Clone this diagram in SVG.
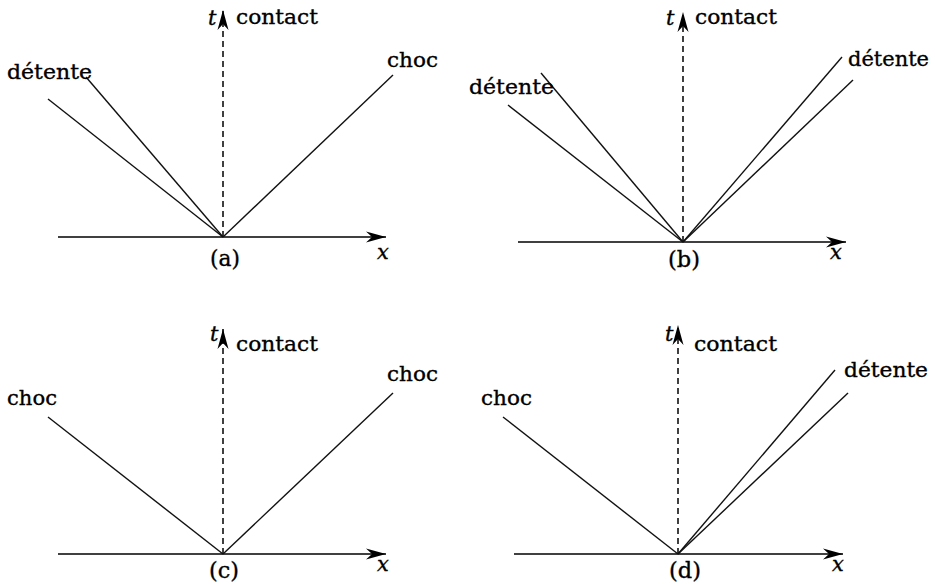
<svg xmlns="http://www.w3.org/2000/svg" width="935" height="584" viewBox="0 0 935 584">
<style>
.ax{stroke:#000;stroke-width:1.6;fill:none}
.ta{stroke:#000;stroke-width:1.5;stroke-dasharray:6,4;fill:none}
.w{stroke:#111;stroke-width:1.4;fill:none}
.lbl{font-family:'DejaVu Serif','Liberation Serif',serif;font-size:21px;fill:#000;stroke:#000;stroke-width:0.35}
.it{font-style:italic}
.cap{font-size:23px}
</style>
<defs>
<marker id="arr" viewBox="-20 -6 21 12" refX="0" refY="0" markerWidth="21" markerHeight="12" markerUnits="userSpaceOnUse" orient="auto">
<path d="M0,0 L-20,-5.5 L-14,0 L-20,5.5 Z" fill="#000" stroke="none"/>
</marker>
</defs>
<rect width="935" height="584" fill="#fff"/>
<g id="connectors">
<line class="ax" x1="58" y1="237" x2="386" y2="237" marker-end="url(#arr)"/>
<line class="ta" x1="223" y1="237" x2="223" y2="10" marker-end="url(#arr)"/>
<line class="w" x1="48" y1="99" x2="223" y2="237"/>
<line class="w" x1="86" y1="77" x2="223" y2="237"/>
<line class="w" x1="223" y1="237" x2="393" y2="75"/>
<line class="ax" x1="518" y1="242" x2="846" y2="242" marker-end="url(#arr)"/>
<line class="ta" x1="683" y1="242" x2="683" y2="12" marker-end="url(#arr)"/>
<line class="w" x1="508" y1="105" x2="683" y2="242"/>
<line class="w" x1="541" y1="73" x2="683" y2="242"/>
<line class="w" x1="683" y1="242" x2="842" y2="57"/>
<line class="w" x1="683" y1="242" x2="853" y2="80"/>
<line class="ax" x1="58" y1="554" x2="386" y2="554" marker-end="url(#arr)"/>
<line class="ta" x1="223" y1="554" x2="223" y2="329" marker-end="url(#arr)"/>
<line class="w" x1="48" y1="417" x2="223" y2="554"/>
<line class="w" x1="223" y1="554" x2="393" y2="393"/>
<line class="ax" x1="514" y1="554" x2="843" y2="554" marker-end="url(#arr)"/>
<line class="ta" x1="678" y1="554" x2="678" y2="325" marker-end="url(#arr)"/>
<line class="w" x1="503" y1="417" x2="678" y2="554"/>
<line class="w" x1="678" y1="554" x2="835" y2="370"/>
<line class="w" x1="678" y1="554" x2="848" y2="393"/>
</g>
<g id="panel-a" class="lbl">
<text class="it" x="208" y="25">t</text>
<text x="236" y="24" textLength="82" lengthAdjust="spacingAndGlyphs">contact</text>
<text x="7" y="79" textLength="85" lengthAdjust="spacingAndGlyphs">détente</text>
<text x="387" y="67" textLength="51" lengthAdjust="spacingAndGlyphs">choc</text>
<text class="cap" x="210" y="266" textLength="30" lengthAdjust="spacingAndGlyphs">(a)</text>
<text class="it" x="377" y="259">x</text>
</g>
<g id="panel-b" class="lbl">
<text class="it" x="666" y="25">t</text>
<text x="695" y="24" textLength="82" lengthAdjust="spacingAndGlyphs">contact</text>
<text x="469" y="94" textLength="85" lengthAdjust="spacingAndGlyphs">détente</text>
<text x="848" y="66" textLength="81" lengthAdjust="spacingAndGlyphs">détente</text>
<text class="cap" x="668" y="267" textLength="32" lengthAdjust="spacingAndGlyphs">(b)</text>
<text class="it" x="830" y="259">x</text>
</g>
<g id="panel-c" class="lbl">
<text class="it" x="210" y="341">t</text>
<text x="236" y="351" textLength="82" lengthAdjust="spacingAndGlyphs">contact</text>
<text x="7" y="405" textLength="50" lengthAdjust="spacingAndGlyphs">choc</text>
<text x="387" y="381" textLength="51" lengthAdjust="spacingAndGlyphs">choc</text>
<text class="cap" x="209" y="578" textLength="30" lengthAdjust="spacingAndGlyphs">(c)</text>
<text class="it" x="377" y="571">x</text>
</g>
<g id="panel-d" class="lbl">
<text class="it" x="665" y="341">t</text>
<text x="694" y="351" textLength="83" lengthAdjust="spacingAndGlyphs">contact</text>
<text x="481" y="405" textLength="51" lengthAdjust="spacingAndGlyphs">choc</text>
<text x="844" y="377" textLength="84" lengthAdjust="spacingAndGlyphs">détente</text>
<text class="cap" x="669" y="578" textLength="32" lengthAdjust="spacingAndGlyphs">(d)</text>
<text class="it" x="832" y="571">x</text>
</g>
</svg>
